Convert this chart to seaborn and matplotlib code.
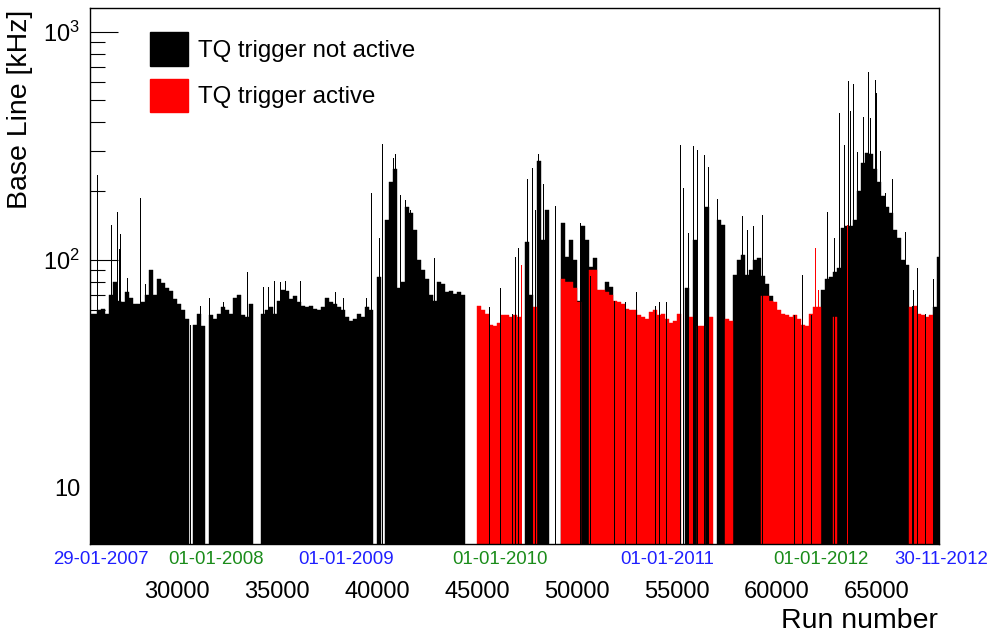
import numpy as np
import pandas as pd
import matplotlib
matplotlib.use('Agg')
import matplotlib.pyplot as plt
import matplotlib.transforms as mtransforms
from matplotlib.patches import Patch
from matplotlib.ticker import LogLocator, NullFormatter
import seaborn as sns

plt.rcParams['font.family'] = ['Liberation Sans', 'DejaVu Sans']
plt.rcParams['mathtext.fontset'] = 'custom'
plt.rcParams['mathtext.rm'] = 'Liberation Sans'

# Base line per block of runs (kHz), 0 = no run in that block
bin_start = 25600
bin_width = 200
spike_width = 50

black_base = [
    58, 58, 60, 61, 58, 70, 80, 66, 65, 72,
    68, 64, 64, 65, 70, 90, 70, 82, 79, 75,
    73, 67, 64, 60, 55, 0, 52, 58, 51, 0,
    57, 55, 58, 62, 60, 58, 68, 70, 57, 56,
    64, 0, 0, 58, 60, 62, 58, 66, 74, 73,
    67, 69, 65, 63, 62, 63, 61, 60, 62, 68,
    65, 64, 62, 60, 56, 54, 55, 58, 56, 62,
    60, 0, 84, 0, 150, 220, 250, 75, 80, 170,
    160, 135, 100, 90, 82, 70, 66, 80, 78, 72,
    73, 71, 72, 70, 0, 0, 0, 0, 0, 0,
    0, 0, 0, 0, 0, 0, 0, 0, 0, 120,
    70, 0, 270, 122, 166, 0, 0, 0, 145, 103,
    122, 100, 66, 141, 122, 93, 102, 0, 0, 80,
    76, 0, 0, 0, 0, 0, 0, 0, 0, 0,
    0, 0, 0, 0, 0, 0, 0, 0, 0, 75,
    0, 122, 0, 0, 171, 0, 0, 150, 142, 0,
    0, 86, 100, 105, 86, 90, 100, 102, 85, 78,
    69, 0, 0, 0, 0, 0, 0, 0, 0, 0,
    0, 0, 0, 74, 82, 84, 88, 92, 138, 140,
    140, 150, 200, 266, 295, 290, 250, 220, 190, 170,
    160, 135, 125, 100, 95, 0, 0, 0, 0, 0,
    0, 62, 103,
]

red_base = [
    0, 0, 0, 0, 0, 0, 0, 0, 0, 0,
    0, 0, 0, 0, 0, 0, 0, 0, 0, 0,
    0, 0, 0, 0, 0, 0, 0, 0, 0, 0,
    0, 0, 0, 0, 0, 0, 0, 0, 0, 0,
    0, 0, 0, 0, 0, 0, 0, 0, 0, 0,
    0, 0, 0, 0, 0, 0, 0, 0, 0, 0,
    0, 0, 0, 0, 0, 0, 0, 0, 0, 0,
    0, 0, 0, 0, 0, 0, 0, 0, 0, 0,
    0, 0, 0, 0, 0, 0, 0, 0, 0, 0,
    0, 0, 0, 0, 0, 0, 0, 63, 60, 58,
    52, 51, 53, 57, 57, 56, 57, 56, 0, 0,
    0, 62, 0, 0, 0, 0, 0, 0, 82, 80,
    80, 75, 65, 0, 0, 90, 90, 74, 74, 72,
    70, 66, 65, 64, 61, 60, 60, 57, 56, 55,
    59, 60, 57, 58, 55, 53, 54, 58, 0, 0,
    56, 0, 51, 51, 0, 56, 0, 0, 0, 55,
    54, 0, 0, 0, 0, 0, 0, 0, 69, 69,
    66, 65, 60, 58, 57, 56, 57, 55, 52, 51,
    58, 62, 62, 0, 0, 0, 56, 0, 0, 0,
    0, 0, 0, 0, 0, 0, 0, 0, 0, 0,
    0, 0, 0, 0, 0, 62, 63, 58, 57, 56,
    57, 0, 0,
]

# single runs with a high base line
black_spike_runs = [26000, 26700, 27000, 27100, 27150, 27500, 28150, 28400, 30650, 31150,
                    31600, 32300, 33500, 34300, 34550, 34850, 35150, 35400, 36150, 37900,
                    38300, 39450, 39700, 40100, 40250, 40800, 40900, 41150, 41400, 41650,
                    42850, 45600, 46150, 46750, 46900, 47050, 47500, 47750, 47900, 48050,
                    48150, 48300, 48900, 50150, 50250, 50650, 51850, 52400, 52950, 53900,
                    54100, 54450, 55150, 55300, 55550, 55800, 56000, 56350, 56550, 57000,
                    58250, 58500, 58800, 59250, 60850, 61250, 61700, 62500, 62850, 63100,
                    63350, 63550, 63650, 63800, 64000, 64300, 64550, 64650, 64900, 64950,
                    65150, 65400, 65750, 66400, 66750, 66800, 67000, 67400, 67800]
black_spike_vals = [236, 142, 162, 111, 130, 83, 187, 78, 52, 63,
                    68, 65, 88, 76, 76, 81, 80, 81, 81, 72,
                    68, 68, 197, 125, 322, 280, 290, 193, 183, 166,
                    102, 62, 75, 58, 103, 113, 226, 253, 166, 291,
                    270, 215, 172, 145, 141, 85, 66, 65, 72, 63,
                    65, 65, 320, 207, 131, 315, 303, 289, 256, 185,
                    155, 135, 140, 157, 57, 86, 57, 162, 125, 441,
                    320, 609, 447, 590, 298, 424, 667, 420, 616, 540,
                    300, 197, 226, 132, 63, 74, 92, 58, 82]
red_spike_runs = [47200, 61900, 62050, 63500]
red_spike_vals = [95, 113, 74, 142]

date_labels = ['29-01-2007', '01-01-2008', '01-01-2009', '01-01-2010',
               '01-01-2011', '01-01-2012', '30-11-2012']
date_runs = [26200, 31950, 38450, 46150, 54500, 62200, 68200]

run_ticks = [30000, 35000, 40000, 45000, 50000, 55000, 60000, 65000]

assert len(black_base) == len(red_base)
assert len(black_spike_runs) == len(black_spike_vals)

n_bins = len(black_base)
edges = [float(bin_start + bin_width * i) for i in range(n_bins + 1)]
df_base = pd.DataFrame({'run': [e + bin_width / 2 for e in edges[:-1]],
                        'black': black_base, 'red': red_base})
spike_edges = [float(e) for e in range(bin_start, int(edges[-1]) + 1, spike_width)]
df_bs = pd.DataFrame({'run': [r + spike_width / 2 for r in black_spike_runs], 'val': black_spike_vals})
df_rs = pd.DataFrame({'run': [r + spike_width / 2 for r in red_spike_runs], 'val': red_spike_vals})

W, H = 998, 636
fig = plt.figure(figsize=(W / 100, H / 100), dpi=100)
ax = fig.add_axes([90 / W, 1 - 544 / H, (939 - 90) / W, (544 - 8) / H])

RED = '#ff0000'
common = dict(element='bars', fill=True, alpha=1, legend=False)
sns.histplot(data=df_base[df_base['black'] > 0], x='run', weights='black', bins=edges,
             color='black', edgecolor='black', linewidth=0.3, ax=ax, **common)
sns.histplot(data=df_base[df_base['red'] > 0], x='run', weights='red', bins=edges,
             color=RED, edgecolor=RED, linewidth=0.3, ax=ax, **common)
sns.histplot(data=df_bs, x='run', weights='val', bins=spike_edges,
             color='black', linewidth=0, ax=ax, **common)
sns.histplot(data=df_rs, x='run', weights='val', bins=spike_edges,
             color=RED, linewidth=0, ax=ax, **common)

ax.set_yscale('log')
ax.set_ylim(5.67, 1270)
ax.set_xlim(25650, 68100)
ax.set_xlabel('')
ax.set_ylabel('')

ax.set_yticks([10, 100, 1000])
ax.set_yticklabels(['10', r'$\mathregular{10^{2}}$', r'$\mathregular{10^{3}}$'])
ax.yaxis.set_minor_locator(LogLocator(base=10, subs=np.arange(2, 10)))
ax.yaxis.set_minor_formatter(NullFormatter())
ax.tick_params(axis='y', which='major', direction='in', length=20, width=0.8,
               labelsize=17, pad=7)
ax.tick_params(axis='y', which='minor', direction='in', length=10.5, width=0.8)

ax.set_xticks(run_ticks)
ax.set_xticklabels([str(t) for t in run_ticks])
ax.tick_params(axis='x', which='both', length=0, labelsize=17, pad=27)

for s in ax.spines.values():
    s.set_linewidth(1.0)
    s.set_color('black')

# dates under the axis
date_colors = ['#1f1fff', '#1a8c1a', '#1f1fff', '#1a8c1a', '#1f1fff', '#1a8c1a', '#1f1fff']
trans = mtransforms.blended_transform_factory(ax.transData, ax.transAxes)
for r, lab, col in zip(date_runs, date_labels, date_colors):
    ax.text(r, -15 / 536, lab, transform=trans, ha='center', va='center',
            fontsize=13.4, color=col, clip_on=False)

fig.text(20 / W, 1 - 10 / H, 'Base Line [kHz]', rotation=90, ha='center', va='top', fontsize=20.5)
fig.text(938 / W, 1 - 628 / H, 'Run number', ha='right', va='baseline', fontsize=20.5)

handles = [Patch(facecolor='black', edgecolor='black', label='TQ trigger not active'),
           Patch(facecolor=RED, edgecolor=RED, label='TQ trigger active')]
ax.legend(handles=handles, loc='upper left', bbox_to_anchor=(150 / W, 1 - 32 / H),
          bbox_transform=fig.transFigure, frameon=False, fontsize=17.3,
          handlelength=1.6, handleheight=1.77, handletextpad=0.38,
          labelspacing=0.55, borderpad=0, borderaxespad=0)

fig.savefig('out.png', dpi=100)
plt.close(fig)
